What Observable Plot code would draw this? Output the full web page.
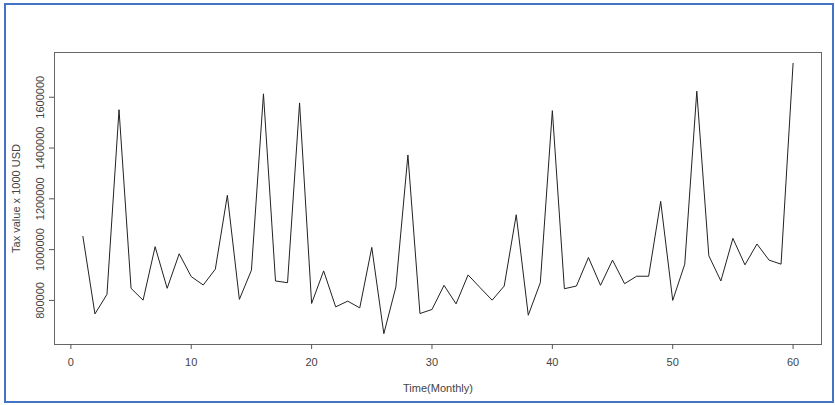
<!DOCTYPE html>
<html>
<head>
<meta charset="utf-8">
<script src="https://cdn.jsdelivr.net/npm/d3@7"></script>
<script src="https://cdn.jsdelivr.net/npm/@observablehq/plot@0.6"></script>
<style>
  html, body { margin: 0; padding: 0; background: #fff; }
  #wrap { position: relative; width: 835px; height: 405px; overflow: hidden; }
  #frame { position: absolute; left: 4px; top: 3px; width: 826px; height: 396px; border: 2.5px solid #4472C4; pointer-events: none; }
  svg { font-family: "Liberation Sans Narrow", "Liberation Sans", Arial, sans-serif; }
</style>
</head>
<body>
<div id="wrap"><div id="frame"></div></div>
<script>
const months = d3.range(1, 61);
const taxValue = [
  1052000, 746800, 823800, 1551000, 847600, 801000, 1011500, 847600, 983700, 893700,
  860700, 923000, 1213900, 804000, 919000, 1613400, 876600, 869800, 1577700, 788000,
  916300, 774600, 797200, 770600, 1008700, 669000, 852800, 1372600, 748400, 764300,
  859500, 786500, 900400, 850000, 801000, 856700, 1137300, 741700, 869800, 1547200,
  846000, 856700, 969000, 859500, 958700, 865900, 895200, 895200, 1190100, 800000,
  942800, 1623800, 975800, 876600, 1044400, 940100, 1022200, 958700, 942800, 1733600
];
const xTicks = [0, 10, 20, 30, 40, 50, 60];
const yTicks = [800000, 1000000, 1200000, 1400000, 1600000];
const xTitle = "Time(Monthly)";
const yTitle = "Tax value x 1000 USD";

const data = months.map((m, i) => ({month: m, value: taxValue[i]}));

// R-style 4% padding of the data range
const xPad = (60 - 1) * 0.04;
const yMin = d3.min(taxValue), yMax = d3.max(taxValue);
const yPad = (yMax - yMin) * 0.04;

const chart = Plot.plot({
  width: 835,
  height: 405,
  marginLeft: 54,
  marginRight: 14,
  marginTop: 52,
  marginBottom: 61,
  style: {fontSize: "11px", color: "#444", background: "transparent"},
  x: {domain: [1 - xPad, 60 + xPad]},
  y: {domain: [yMin - yPad, yMax + yPad]},
  marks: [
    Plot.frame({stroke: "#666", strokeWidth: 1}),
    Plot.axisX({ticks: xTicks, tickSize: 5, tickPadding: 9, tickFormat: d => String(d), fill: "#444",
      label: xTitle, labelAnchor: "center", labelOffset: 47, labelArrow: "none", stroke: "#555"}),
    Plot.axisY({ticks: yTicks, tickSize: 5, tickPadding: 6, tickRotate: -90, tickFormat: d => String(d), fill: "#444",
      label: yTitle, labelAnchor: "center", labelOffset: 42, labelArrow: "none", stroke: "#555"}),
    Plot.line(data, {x: "month", y: "value", stroke: "#222", strokeWidth: 1})
  ]
});
document.getElementById("wrap").insertBefore(chart, document.getElementById("frame"));
</script>
</body>
</html>
